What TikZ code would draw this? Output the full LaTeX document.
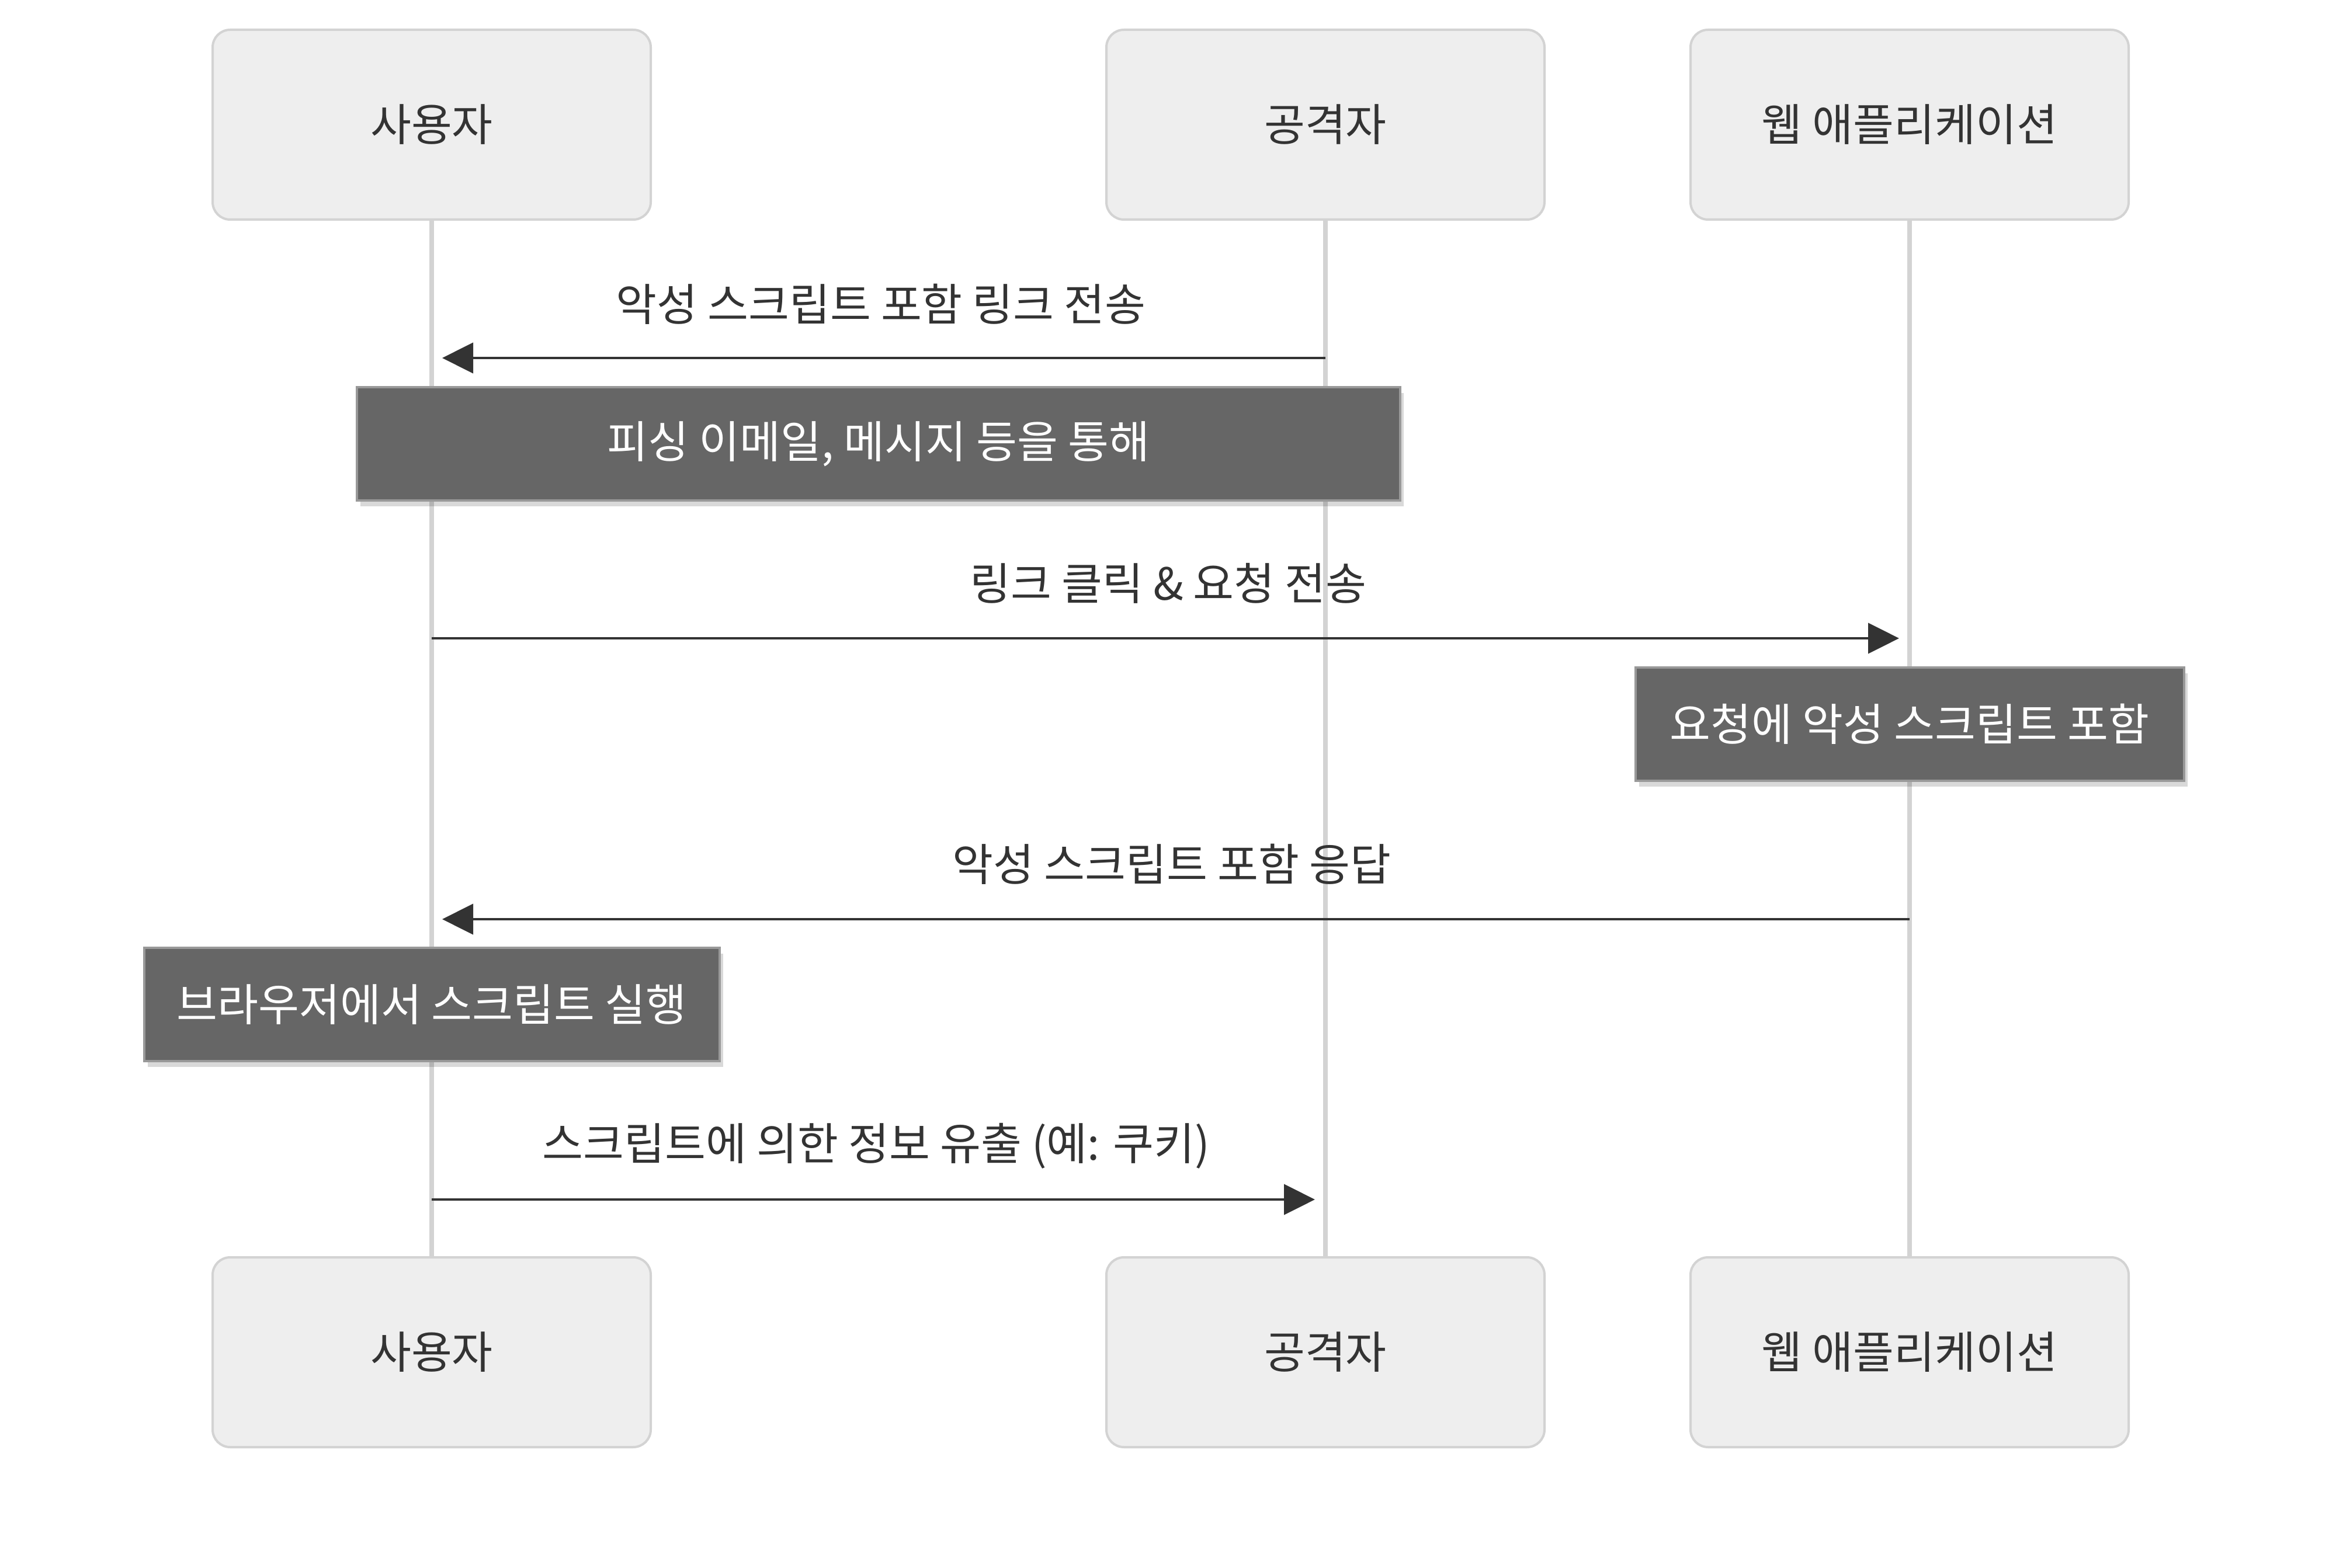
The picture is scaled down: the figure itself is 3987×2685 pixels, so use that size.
\documentclass[tikz,border=0pt]{standalone}
\usepackage{fontspec}
\setmainfont{Noto Sans CJK KR}
\usetikzlibrary{arrows.meta,shadows}
\definecolor{actfill}{HTML}{EEEEEE}
\definecolor{actline}{HTML}{D3D3D3}
\definecolor{txt}{HTML}{333333}
\definecolor{notefill}{HTML}{666666}
\definecolor{noteline}{HTML}{999999}
\begin{document}
\begin{tikzpicture}[x=0.25pt,y=-0.25pt,
  lblfont/.style={font=\fontsize{19}{23}\selectfont},
  actor/.style={draw=actline, line width=1pt, fill=actfill, rounded corners=7.5pt,
    minimum width=187.5pt, minimum height=81.25pt, inner sep=0pt, text=txt, lblfont},
  note/.style={draw=noteline, line width=1pt, fill=notefill, minimum height=48.5pt,
    inner sep=0pt, text=white, lblfont,
    drop shadow={shadow xshift=1.5pt, shadow yshift=-2.5pt, opacity=0.15, fill=black}},
  life/.style={draw=actline, line width=2pt},
  msg/.style={draw=txt, line width=1.1pt, -{Triangle[length=13.25pt,width=13pt]}},
  lbl/.style={text=txt, inner sep=0pt, lblfont}
]
\fill[white] (0,0) rectangle (3987,2685);
\useasboundingbox (0,0) rectangle (3987,2685);

% actors
\node[actor] (uT) at (739,213.5) {사용자};
\node[actor] (aT) at (2269,213.5) {공격자};
\node[actor] (wT) at (3269,213.5) {웹 애플리케이션};
\node[actor] (uB) at (739,2315.5) {사용자};
\node[actor] (aB) at (2269,2315.5) {공격자};
\node[actor] (wB) at (3269,2315.5) {웹 애플리케이션};

% lifelines
\draw[life] (uT.south) -- (uB.north);
\draw[life] (aT.south) -- (aB.north);
\draw[life] (wT.south) -- (wB.north);

% message anchor points
\coordinate (m1a) at (2269,613);
\coordinate (m1b) at (757,613);
\coordinate (m2a) at (739,1093);
\coordinate (m2b) at (3251,1093);
\coordinate (m3a) at (3269,1574);
\coordinate (m3b) at (757,1574);
\coordinate (m4a) at (739,2054);
\coordinate (m4b) at (2251,2054);

\draw[msg] (m1a) -- (m1b);
\draw[msg] (m2a) -- (m2b);
\draw[msg] (m3a) -- (m3b);
\draw[msg] (m4a) -- (m4b);

\node[lbl] (l1) at (1508,521) {악성 스크립트 포함 링크 전송};
\node[lbl] (l2) at (2000,999) {링크 클릭 \& 요청 전송};
\node[lbl] (l3) at (2006,1480) {악성 스크립트 포함 응답};
\node[lbl] (l4) at (1500,1962) {스크립트에 의한 정보 유출 (예: 쿠키)};

% notes
\node[note, minimum width=446.5pt] (n1) at (1504,760) {피싱 이메일, 메시지 등을 통해};
\node[note, minimum width=234.75pt] (n2) at (3269,1240) {요청에 악성 스크립트 포함};
\node[note, minimum width=246.25pt] (n3) at (739,1720) {브라우저에서 스크립트 실행};
\end{tikzpicture}
\end{document}
